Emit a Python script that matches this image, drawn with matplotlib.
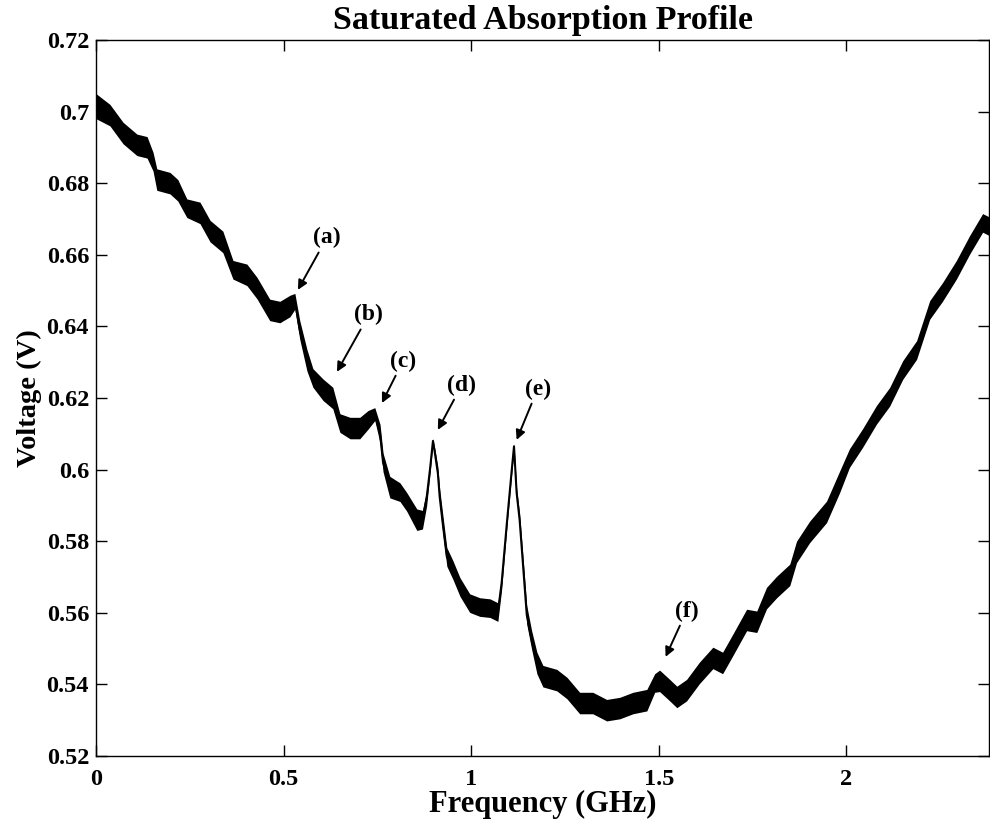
import matplotlib
matplotlib.use("Agg")
import matplotlib.pyplot as plt
from matplotlib.ticker import FuncFormatter

# trace: frequency (GHz), mean voltage (V), half width of the noise band (V)
freq = [0.000, 0.037, 0.072, 0.109, 0.136, 0.152, 0.162, 0.197, 0.218, 0.242,
        0.277, 0.304, 0.338, 0.365, 0.402, 0.429, 0.463, 0.490, 0.517, 0.530,
        0.543, 0.562, 0.578, 0.605, 0.631, 0.650, 0.677, 0.703, 0.725, 0.743,
        0.757, 0.765, 0.783, 0.810, 0.828, 0.855, 0.870, 0.881, 0.890, 0.898,
        0.904, 0.911, 0.916, 0.924, 0.935, 0.951, 0.970, 0.996, 1.023, 1.050,
        1.071, 1.081, 1.095, 1.108, 1.114, 1.121, 1.129, 1.137, 1.148, 1.161,
        1.175, 1.191, 1.228, 1.255, 1.289, 1.324, 1.361, 1.396, 1.431, 1.468,
        1.489, 1.502, 1.529, 1.548, 1.574, 1.608, 1.644, 1.670, 1.697, 1.734,
        1.761, 1.787, 1.814, 1.849, 1.867, 1.902, 1.947, 1.982, 2.008, 2.043,
        2.080, 2.115, 2.150, 2.187, 2.222, 2.256, 2.293, 2.328, 2.363, 2.380]
volts = [0.7015, 0.6990, 0.6940, 0.6907, 0.6900, 0.6860, 0.6810, 0.6800, 0.6780, 0.6730,
         0.6717, 0.6666, 0.6636, 0.6558, 0.6544, 0.6507, 0.6446, 0.6440, 0.6457, 0.6470,
         0.6390, 0.6306, 0.6256, 0.6223, 0.6200, 0.6130, 0.6116, 0.6116, 0.6139, 0.6155,
         0.6100, 0.6020, 0.5951, 0.5937, 0.5910, 0.5860, 0.5860, 0.5920, 0.6000, 0.6080,
         0.6040, 0.5990, 0.5923, 0.5850, 0.5756, 0.5720, 0.5672, 0.5627, 0.5616, 0.5613,
         0.5602, 0.5683, 0.5851, 0.5999, 0.6065, 0.5935, 0.5859, 0.5748, 0.5594, 0.5524,
         0.5460, 0.5423, 0.5412, 0.5390, 0.5348, 0.5348, 0.5328, 0.5334, 0.5348, 0.5356,
         0.5404, 0.5410, 0.5384, 0.5365, 0.5384, 0.5432, 0.5474, 0.5460, 0.5510, 0.5580,
         0.5575, 0.5641, 0.5672, 0.5706, 0.5770, 0.5826, 0.5882, 0.5966, 0.6032, 0.6088,
         0.6153, 0.6203, 0.6278, 0.6334, 0.6446, 0.6496, 0.6558, 0.6627, 0.6689, 0.6680]
spread = [0.0035, 0.0030, 0.0030, 0.0030, 0.0030, 0.0026, 0.0030, 0.0030, 0.0030, 0.0026,
          0.0030, 0.0030, 0.0030, 0.0026, 0.0030, 0.0030, 0.0030, 0.0030, 0.0030, 0.0022,
          0.0026, 0.0030, 0.0026, 0.0030, 0.0030, 0.0026, 0.0030, 0.0030, 0.0026, 0.0018,
          0.0026, 0.0026, 0.0030, 0.0026, 0.0026, 0.0030, 0.0026, 0.0022, 0.0013, 0.0007,
          0.0013, 0.0018, 0.0022, 0.0026, 0.0026, 0.0026, 0.0026, 0.0026, 0.0026, 0.0026,
          0.0026, 0.0018, 0.0013, 0.0010, 0.0007, 0.0013, 0.0018, 0.0022, 0.0026, 0.0026,
          0.0030, 0.0030, 0.0030, 0.0030, 0.0030, 0.0030, 0.0030, 0.0030, 0.0030, 0.0030,
          0.0026, 0.0030, 0.0030, 0.0030, 0.0030, 0.0030, 0.0030, 0.0030, 0.0030, 0.0030,
          0.0030, 0.0030, 0.0030, 0.0030, 0.0030, 0.0030, 0.0030, 0.0030, 0.0026, 0.0026,
          0.0026, 0.0026, 0.0026, 0.0026, 0.0026, 0.0026, 0.0026, 0.0026, 0.0026, 0.0026]

# peak markers: label, arrow tip, label position
peak_labels = ["(a)", "(b)", "(c)", "(d)", "(e)", "(f)"]
tip_f = [0.538, 0.642, 0.762, 0.911, 1.121, 1.518]
tip_v = [0.6502, 0.6273, 0.6186, 0.6111, 0.6083, 0.5477]
text_f = [0.615, 0.727, 0.818, 0.975, 1.177, 1.574]
text_v = [0.6647, 0.6432, 0.6303, 0.6236, 0.6225, 0.5605]

xticks = [0, 0.5, 1, 1.5, 2]
yticks = [0.52, 0.54, 0.56, 0.58, 0.60, 0.62, 0.64, 0.66, 0.68, 0.70, 0.72]

plt.rcParams["font.family"] = "Liberation Serif"
plt.rcParams["font.weight"] = "bold"

fig = plt.figure(figsize=(9.9, 8.25), dpi=100)
ax = fig.add_axes([0.097, 0.0836, 0.902, 0.868])

lo = [v - s for v, s in zip(volts, spread)]
hi = [v + s for v, s in zip(volts, spread)]
ax.fill_between(freq, lo, hi, color="black", lw=0)
ax.plot(freq, volts, color="black", lw=1.5)

for lab, tf, tv, lf, lv in zip(peak_labels, tip_f, tip_v, text_f, text_v):
    ax.annotate(lab, xy=(tf, tv), xytext=(lf, lv), ha="center", va="center",
                fontsize=17, fontweight="bold",
                arrowprops=dict(arrowstyle="-|>", color="black", lw=1.4,
                                mutation_scale=14, shrinkA=1, shrinkB=0))

ax.set_xlim(0, 2.38)
ax.set_ylim(0.52, 0.72)
ax.set_xticks(xticks)
ax.set_yticks(yticks)
ax.xaxis.set_major_formatter(FuncFormatter(lambda v, p: "%g" % v))
ax.yaxis.set_major_formatter(FuncFormatter(lambda v, p: "%g" % round(v, 2)))
ax.tick_params(direction="in", length=8, width=1, top=True, right=True,
               labelsize=17.5)
ax.tick_params(axis="x", pad=9)
ax.tick_params(axis="y", pad=5)
for sp in ax.spines.values():
    sp.set_linewidth(1)

ax.set_title("Saturated Absorption Profile", fontsize=24.5, fontweight="bold", pad=8)
ax.set_xlabel("Frequency (GHz)", fontsize=22, fontweight="bold", labelpad=0)
ax.set_ylabel("Voltage (V)", fontsize=20.5, fontweight="bold", labelpad=3)

fig.savefig("out.png", dpi=100)
